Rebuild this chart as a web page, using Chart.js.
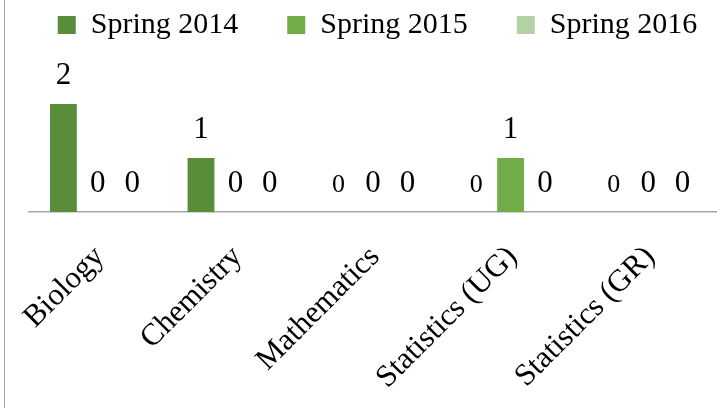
<!DOCTYPE html>
<html>
<head>
<meta charset="utf-8">
<script src="https://cdn.jsdelivr.net/npm/chart.js@4.4.1/dist/chart.umd.min.js"></script>
<style>
    body { margin: 0; background: #fff; }
    #wrap { position: relative; width: 717px; height: 408px; overflow: hidden; }
    #frame { position: absolute; left: 4px; top: 0; width: 1px; height: 408px; background: #a6a6a6; }
</style>
</head>
<body>
<div id="wrap">
    <canvas id="grafico" width="717" height="408"></canvas>
    <div id="frame"></div>
</div>
<script>
/* dados do gráfico */
var categories = ['Biology', 'Chemistry', 'Mathematics', 'Statistics (UG)', 'Statistics (GR)'];
var seriesNames = ['Spring 2014', 'Spring 2015', 'Spring 2016'];
var spring2014 = [2, 1, 0, 0, 0];
var spring2015 = [0, 0, 0, 1, 0];
var spring2016 = [0, 0, 0, 0, 0];
var colors = ['#588E3A', '#70AD47', '#B4D0A5'];

/* rótulos de valor em cima das barras */
var valueLabels = {
    id: 'valueLabels',
    afterDatasetsDraw: function (chart) {
        var ctx = chart.ctx;
        ctx.save();
        ctx.fillStyle = '#000';
        ctx.textAlign = 'center';
        ctx.textBaseline = 'alphabetic';
        chart.data.datasets.forEach(function (ds, i) {
            chart.getDatasetMeta(i).data.forEach(function (bar, j) {
                var v = ds.data[j];
                var size = (i === 0 && v === 0) ? 26 : 31;
                ctx.font = size + 'px "Liberation Serif"';
                ctx.fillText(String(v), bar.x, bar.y - 20);
            });
        });
        ctx.restore();
    }
};

var ctx = document.getElementById('grafico').getContext('2d');

var grafico = new Chart(ctx, {
    type: 'bar',
    data: {
        labels: categories,
        datasets: [
            { label: seriesNames[0], data: spring2014, backgroundColor: colors[0], categoryPercentage: 0.75, barPercentage: 0.78 },
            { label: seriesNames[1], data: spring2015, backgroundColor: colors[1], categoryPercentage: 0.75, barPercentage: 0.78 },
            { label: seriesNames[2], data: spring2016, backgroundColor: colors[2], categoryPercentage: 0.75, barPercentage: 0.78 }
        ]
    },
    options: {
        responsive: false,
        animation: false,
        devicePixelRatio: 1,
        layout: { padding: { left: 8, right: -30, top: -39, bottom: 0 } },
        plugins: {
            tooltip: { enabled: false },
            legend: {
                position: 'top',
                align: 'center',
                labels: {
                    boxWidth: 18,
                    boxHeight: 18,
                    padding: 49,
                    color: '#000',
                    font: { family: 'Liberation Serif', size: 30 }
                }
            }
        },
        scales: {
            x: {
                position: 'bottom',
                grid: { display: false },
                border: { color: '#a6a6a6', width: 1.5 },
                ticks: {
                    autoSkip: false,
                    maxRotation: 45,
                    minRotation: 45,
                    padding: 19,
                    labelOffset: 2,
                    color: '#000',
                    font: { family: 'Liberation Serif', size: 31 }
                },
                afterFit: function (s) { s.height = 196; }
            },
            y: {
                position: 'left',
                min: 0,
                max: 3,
                ticks: { display: false },
                grid: { display: false },
                border: { display: false },
                afterFit: function (s) { s.width = 21; }
            },
            yr: {
                type: 'linear',
                position: 'right',
                ticks: { display: false },
                grid: { display: false },
                border: { display: false },
                afterFit: function (s) { s.width = 25; }
            }
        }
    },
    plugins: [valueLabels]
});
</script>
</body>
</html>
